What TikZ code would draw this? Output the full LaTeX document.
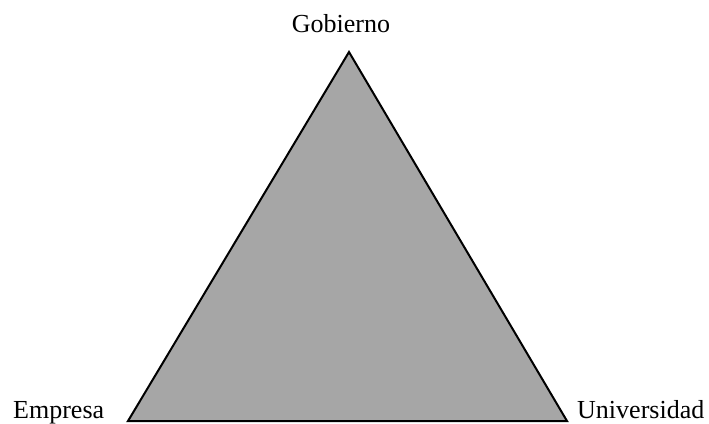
\documentclass[tikz,border=0pt]{standalone}
\usepackage{fontspec}
\setmainfont{Liberation Serif}
\definecolor{trifill}{RGB}{166,166,166}
\begin{document}
\begin{tikzpicture}[x=1pt,y=-1pt,
  lbl/.style={inner sep=0pt,font=\fontsize{26}{30}\selectfont},
  tri/.style={draw=black,line width=2pt,fill=trifill,line join=miter}]
\useasboundingbox (0,0) rectangle (709,423);
\coordinate (G) at (349,52);
\coordinate (E) at (128,421);
\coordinate (U) at (567,421);
\draw[tri] (G) -- (E) -- (U) -- cycle;
\node[lbl,anchor=base] (gob) at (341,32) {Gobierno};
\node[lbl,anchor=base west] (emp) at (13,418) {Empresa};
\node[lbl,anchor=base west] (uni) at (577,418) {Universidad};
\end{tikzpicture}
\end{document}
